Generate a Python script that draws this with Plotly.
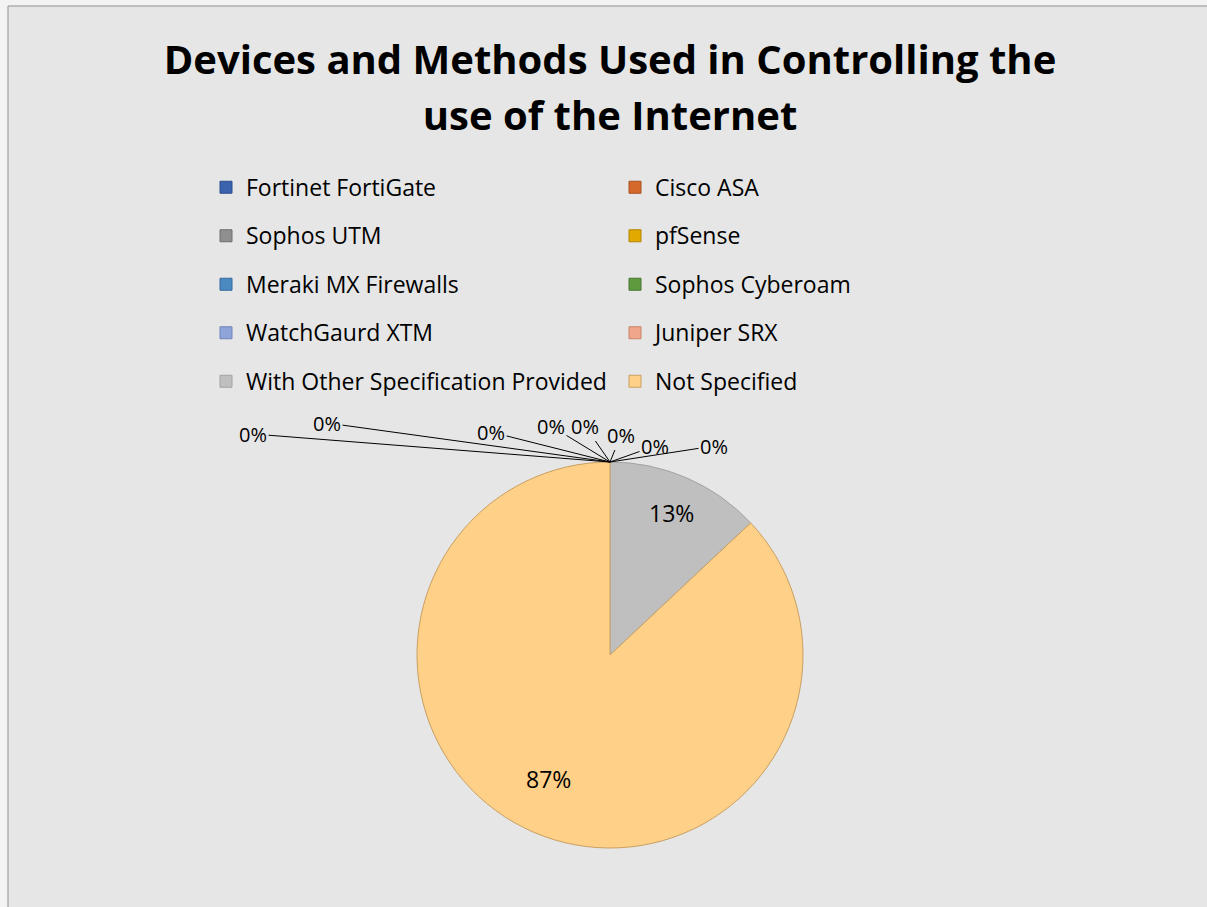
import math
import plotly.graph_objects as go

# ---------------- data ----------------
categories = [
    "Fortinet FortiGate", "Cisco ASA",
    "Sophos UTM", "pfSense",
    "Meraki MX Firewalls", "Sophos Cyberoam",
    "WatchGaurd XTM", "Juniper SRX",
    "With Other Specification Provided", "Not Specified",
]
values = [0, 0, 0, 0, 0, 0, 0, 0, 13, 87]
title_lines = ["Devices and Methods Used in Controlling the", "use of the Internet"]

# ---------------- styles ----------------
slice_colors = ["#3b62ad", "#d5692c", "#8f8f8f", "#e2a900", "#4a89c2",
                "#5e9a3e", "#8ea4da", "#f0a68b", "#bfbfbf", "#ffd087"]
slice_lines = ["#2c4d8c", "#a8501f", "#6e6e6e", "#b38500", "#35699a",
               "#467530", "#6f84b8", "#c98468", "#a3a3a3", "#c9a062"]
FONT = "Open Sans"
W, H = 1207, 907
cx, cy, r = 610, 655, 193          # pie placement in pixels
label_radius = 0.8                 # fraction of radius for in-slice labels
# pixel offsets (from the pie top) for the small-slice labels
zero_label_offsets = [(-357, -28), (-283, -39), (-119, -30), (-59, -36),
                      (-25, -36), (11, -27), (45, -16), (104, -16)]

dom_x = [(cx - r) / W, (cx + r) / W]
dom_y = [1 - (cy + r) / H, 1 - (cy - r) / H]

total = sum(values)
legend_labels = [f'<span style="font-size:23px;baseline-shift:5px">{c}</span>'
                 for c in categories]
title_html = "<br>".join(f'<b><span style="font-size:40px">{t}</span></b>'
                         for t in title_lines)

fig = go.Figure(go.Pie(
    labels=legend_labels,
    values=values,
    sort=False,
    direction="clockwise",
    rotation=0,
    domain=dict(x=dom_x, y=dom_y),
    marker=dict(colors=slice_colors, line=dict(color=slice_lines, width=1)),
    textinfo="none",
    hoverinfo="label+value+percent",
))

annotations = []
k = 0
cum = 0.0
for v in values:
    pct_text = f"{round(100 * v / total)}%"
    if v == 0:
        # labels of the zero-sized slices, with leader lines to the pie top
        ax, ay = zero_label_offsets[k]
        k += 1
        annotations.append(dict(
            x=(dom_x[0] + dom_x[1]) / 2, y=dom_y[1], xref="paper", yref="paper",
            text=pct_text, showarrow=True, arrowhead=0,
            arrowwidth=1, arrowcolor="#000000", ax=ax, ay=ay,
            font=dict(family=FONT, size=20, color="#000000"), standoff=0,
        ))
    else:
        mid = 2 * math.pi * (cum + v / 2) / total
        px = cx + label_radius * r * math.sin(mid)
        py = cy - label_radius * r * math.cos(mid)
        annotations.append(dict(
            x=px / W, y=1 - py / H, xref="paper", yref="paper",
            text=pct_text, showarrow=False,
            font=dict(family=FONT, size=23, color="#000000"),
        ))
    cum += v

fig.update_layout(
    width=W, height=H,
    margin=dict(l=0, r=0, t=0, b=0),
    paper_bgcolor="#f3f3f3",
    title=dict(text=title_html, x=610 / W, xanchor="center",
               y=1 - 74 / H, yanchor="top", yref="container",
               font=dict(family=FONT, size=43, color="#000000")),
    legend=dict(orientation="h", x=206 / W, xanchor="left",
                y=1 - 158 / H, yanchor="top",
                entrywidth=364, entrywidthmode="pixels",
                font=dict(family=FONT, size=35, color="#000000"),
                bgcolor="rgba(0,0,0,0)", traceorder="normal"),
    annotations=annotations,
    shapes=[dict(type="rect", xref="paper", yref="paper",
                 x0=8 / W, x1=1.05, y0=-0.05, y1=1 - 6 / H,
                 fillcolor="#e6e6e6", line=dict(color="#8f8f8f", width=1),
                 layer="below")],
)

fig.write_html("out.html")
